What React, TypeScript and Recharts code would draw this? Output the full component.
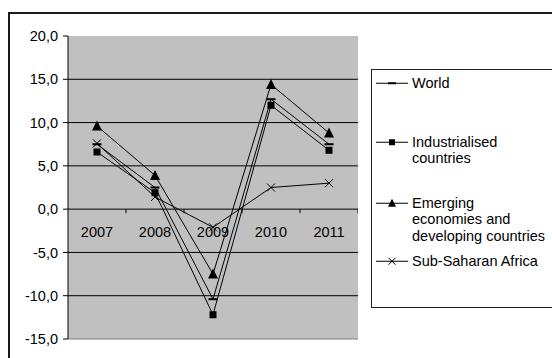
import React from "react";
import {
  LineChart,
  Line,
  XAxis,
  YAxis,
  CartesianGrid,
  ReferenceLine,
} from "recharts";

const categories = ["2007", "2008", "2009", "2010", "2011"];
const world = [7.5, 2.5, -10.4, 12.7, 7.5];
const industrialised = [6.6, 1.9, -12.2, 12.0, 6.8];
const emerging = [9.6, 3.9, -7.5, 14.4, 8.8];
const subSaharan = [7.6, 1.4, -2.1, 2.5, 3.0];
const yTicks = [-15, -10, -5, 0, 5, 10, 15, 20];
const gridValues = [-10, -5, 5, 10, 15];

const data = categories.map((year, i) => ({
  year,
  world: world[i],
  industrialised: industrialised[i],
  emerging: emerging[i],
  subSaharan: subSaharan[i],
}));

const Y_MIN = -15;
const Y_MAX = 20;
const CHART_W = 358;
const CHART_H = 358;
const TOP = 36;
const BOTTOM = 18;
const X_AXIS_H = 1;
const AXIS_W = 68;
const PLOT_H = CHART_H - TOP - BOTTOM - X_AXIS_H;
const ZERO_Y = TOP + (PLOT_H * Y_MAX) / (Y_MAX - Y_MIN);
const HALF_BAND = (CHART_W - AXIS_W) / categories.length / 2;

const FONT = "'Liberation Sans', Arial, sans-serif";

type DotProps = { cx?: number; cy?: number; small?: boolean };

function DashDot({ cx = 0, cy = 0, small }: DotProps) {
  const w = small ? 8 : 9;
  return <rect x={cx - w / 2} y={cy - 1} width={w} height={2} fill="#000" />;
}
function SquareDot({ cx = 0, cy = 0, small }: DotProps) {
  const s = small ? 6 : 7;
  return <rect x={cx - s / 2} y={cy - s / 2} width={s} height={s} fill="#000" />;
}
function TriangleDot({ cx = 0, cy = 0, small }: DotProps) {
  const w = small ? 8 : 10;
  const h = small ? 7 : 9;
  return (
    <polygon
      points={`${cx},${cy - h / 2 - 1} ${cx - w / 2},${cy + h / 2} ${cx + w / 2},${cy + h / 2}`}
      fill="#000"
    />
  );
}
function CrossDot({ cx = 0, cy = 0, small }: DotProps) {
  const r = small ? 3.5 : 4;
  return (
    <g stroke="#000" strokeWidth={1}>
      <line x1={cx - r} y1={cy - r} x2={cx + r} y2={cy + r} />
      <line x1={cx - r} y1={cy + r} x2={cx + r} y2={cy - r} />
    </g>
  );
}

const series = [
  { key: "world", name: ["World"], Dot: DashDot, top: 13 },
  { key: "industrialised", name: ["Industrialised", "countries"], Dot: SquareDot, top: 72 },
  {
    key: "emerging",
    name: ["Emerging", "economies and", "developing countries"],
    Dot: TriangleDot,
    top: 133,
  },
  { key: "subSaharan", name: ["Sub-Saharan Africa"], Dot: CrossDot, top: 191 },
];

function YearTick(props: any) {
  const { x, payload } = props;
  return (
    <g>
      <line x1={x + HALF_BAND} y1={ZERO_Y} x2={x + HALF_BAND} y2={ZERO_Y + 4} stroke="#000" />
      <text
        x={x}
        y={ZERO_Y + 28}
        textAnchor="middle"
        fontSize={14.5}
        fill="#000"
        fontFamily={FONT}
      >
        {payload.value}
      </text>
    </g>
  );
}

function LegendBox() {
  const LH = 16.5;
  return (
    <div
      style={{
        position: "absolute",
        left: 371,
        top: 69,
        width: 200,
        height: 237,
        border: "1px solid #222",
        background: "#fff",
        fontFamily: FONT,
        fontSize: 14.5,
        color: "#000",
      }}
    >
      {series.map((s) => (
        <div key={s.key} style={{ position: "absolute", left: 4, top: s.top - LH / 2 }}>
          <svg width={32} height={LH} style={{ position: "absolute", left: 0, top: 0 }}>
            <line x1={0} y1={LH / 2} x2={32} y2={LH / 2} stroke="#000" />
            <s.Dot cx={16} cy={LH / 2} small />
          </svg>
          <div style={{ position: "absolute", left: 36, top: 0, whiteSpace: "nowrap", lineHeight: `${LH}px` }}>
            {s.name.map((n) => (
              <div key={n}>{n}</div>
            ))}
          </div>
        </div>
      ))}
    </div>
  );
}

export default function App() {
  return (
    <div
      style={{
        position: "fixed",
        left: 0,
        top: 0,
        width: 552,
        height: 358,
        overflow: "hidden",
        background: "#fff",
        fontFamily: FONT,
      }}
    >
      <div
        style={{
          position: "absolute",
          left: 8,
          top: 12,
          width: 600,
          height: 400,
          border: "2px solid #1a1a1a",
        }}
      />
      <div style={{ position: "absolute", left: 0, top: 0 }}>
        <LineChart
          width={CHART_W}
          height={CHART_H}
          data={data}
          margin={{ top: TOP, right: 0, bottom: BOTTOM, left: 0 }}
        >
          <CartesianGrid
            vertical={false}
            horizontalValues={gridValues}
            stroke="#000"
            fill="#c0c0c0"
            fillOpacity={1}
          />
          <ReferenceLine y={Y_MIN} stroke="#808080" />
          <ReferenceLine y={0} stroke="#000" />
          <XAxis
            dataKey="year"
            height={X_AXIS_H}
            axisLine={false}
            tickLine={false}
            tick={<YearTick />}
            interval={0}
            padding={{ left: HALF_BAND, right: HALF_BAND }}
          />
          <YAxis
            width={AXIS_W}
            domain={[Y_MIN, Y_MAX]}
            ticks={yTicks}
            interval={0}
            tickFormatter={(v) => Number(v).toFixed(1).replace(".", ",")}
            axisLine={{ stroke: "#000" }}
            tickLine={{ stroke: "#000" }}
            tickSize={5}
            tickMargin={5}
            tick={{ fill: "#000", fontSize: 14.5, fontFamily: FONT }}
          />
          {series.map((s) => (
            <Line
              key={s.key}
              dataKey={s.key}
              name={s.name.join(" ")}
              type="linear"
              stroke="#000"
              strokeWidth={1}
              dot={(p: any) => <s.Dot key={`${s.key}-${p.index}`} cx={p.cx} cy={p.cy} />}
              activeDot={false}
              isAnimationActive={false}
            />
          ))}
        </LineChart>
      </div>
      <LegendBox />
    </div>
  );
}
